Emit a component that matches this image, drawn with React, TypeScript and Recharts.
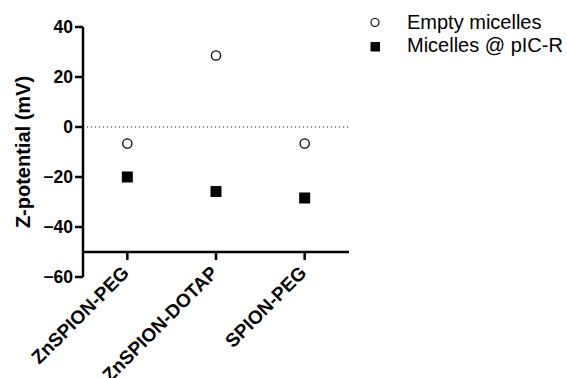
import React from 'react';
import { ComposedChart, Scatter, XAxis, YAxis, ReferenceLine, Legend } from 'recharts';

const categories = ['ZnSPION-PEG', 'ZnSPION-DOTAP', 'SPION-PEG'];
const emptyMicelles = [-6.6, 28.6, -6.6];
const micellesPIC = [-20.0, -25.8, -28.4];
const yTicks = [-60, -40, -20, 0, 20, 40];
const seriesNames = ['Empty micelles', 'Micelles @ pIC-R'];
const yTitle = 'Z-potential (mV)';

const Y_MIN = -60;
const Y_MAX = 40;
const X_CROSS = -50;

const data = categories.map((c, i) => ({ name: c, empty: emptyMicelles[i], loaded: micellesPIC[i] }));

const W = 567;
const H = 378;
const X_AXIS_H = 30;
const MARGIN = { top: 27, right: 218, bottom: 71, left: 0 };
const Y_AXIS_W = 83;
const PLOT_W = W - MARGIN.left - MARGIN.right - Y_AXIS_W;
const PLOT_H = H - MARGIN.top - MARGIN.bottom - X_AXIS_H;
const CROSS_OFFSET = ((X_CROSS - Y_MIN) / (Y_MAX - Y_MIN)) * PLOT_H;
const HALF_BAND = PLOT_W / categories.length / 2;

const FONT = '"Liberation Sans", Arial, Helvetica, sans-serif';

const XTick = (props: any) => {
  const { x, y, payload } = props;
  const axisY = y - CROSS_OFFSET;
  const tx = x + 3;
  const ty = axisY + 22;
  return (
    <g>
      <line x1={x} x2={x} y1={axisY} y2={axisY + 8} stroke="#000" strokeWidth={2.5} />
      <text
        x={tx}
        y={ty}
        transform={`rotate(-45 ${tx} ${ty})`}
        textAnchor="end"
        fontFamily={FONT}
        fontWeight="bold"
        fontSize={19}
        fill="#000"
      >
        {payload.value}
      </text>
    </g>
  );
};

const YLabel = (props: any) => {
  const vb = props.viewBox || { x: 0, y: 0, height: PLOT_H };
  const x = vb.x + 30;
  const y = vb.y + vb.height / 2;
  return (
    <text
      x={x}
      y={y}
      transform={`rotate(-90 ${x} ${y})`}
      textAnchor="middle"
      fontFamily={FONT}
      fontWeight="bold"
      fontSize={20}
      fill="#000"
    >
      {yTitle}
    </text>
  );
};

const CircleShape = (props: any) => (
  <circle cx={props.cx} cy={props.cy} r={4.6} fill="#fff" stroke="#000" strokeWidth={1.3} />
);
const SquareShape = (props: any) => (
  <rect x={props.cx - 5.5} y={props.cy - 5.5} width={11} height={11} fill="#000" />
);

const LegendContent = () => (
  <svg width={205} height={60} style={{ display: 'block' }}>
    <circle cx={13} cy={22.5} r={4} fill="#fff" stroke="#000" strokeWidth={1.2} />
    <text x={45} y={28.5} fontFamily={FONT} fontSize={20} fill="#000">{seriesNames[0]}</text>
    <rect x={8.5} y={42} width={9.5} height={9.5} fill="#000" />
    <text x={45} y={52} fontFamily={FONT} fontSize={20} fill="#000">{seriesNames[1]}</text>
  </svg>
);

const formatY = (v: number) => String(v).replace('-', '\u2212');

export default function App() {
  return (
    <div style={{ position: 'absolute', left: 0, top: 0, width: W, height: H, background: '#fff' }}>
      <ComposedChart width={W} height={H} data={data} margin={MARGIN}>
        <XAxis
          dataKey="name"
          type="category"
          height={X_AXIS_H}
          padding={{ left: HALF_BAND, right: HALF_BAND }}
          axisLine={false}
          tickLine={false}
          tickSize={0}
          tickMargin={0}
          interval={0}
          tick={<XTick />}
        />
        <YAxis
          type="number"
          domain={[Y_MIN, Y_MAX]}
          ticks={yTicks}
          interval={0}
          width={Y_AXIS_W}
          axisLine={{ stroke: '#000', strokeWidth: 2.5 }}
          tickLine={{ stroke: '#000', strokeWidth: 2.5 }}
          tickSize={8}
          tickMargin={2}
          tickFormatter={formatY}
          tick={{ fontFamily: FONT, fontWeight: 'bold', fontSize: 17.5, fill: '#000' }}
          label={<YLabel />}
        />
        <ReferenceLine y={0} stroke="#222" strokeWidth={1} strokeDasharray="1.2 2.8" />
        <ReferenceLine y={X_CROSS} stroke="#000" strokeWidth={2.5} />
        <Legend
          layout="horizontal"
          align="center"
          verticalAlign="middle"
          wrapperStyle={{ left: 362, top: 0, width: 205, height: 60 }}
          content={<LegendContent />}
        />
        <Scatter name={seriesNames[0]} dataKey="empty" shape={<CircleShape />} isAnimationActive={false} />
        <Scatter name={seriesNames[1]} dataKey="loaded" shape={<SquareShape />} isAnimationActive={false} />
      </ComposedChart>
    </div>
  );
}
